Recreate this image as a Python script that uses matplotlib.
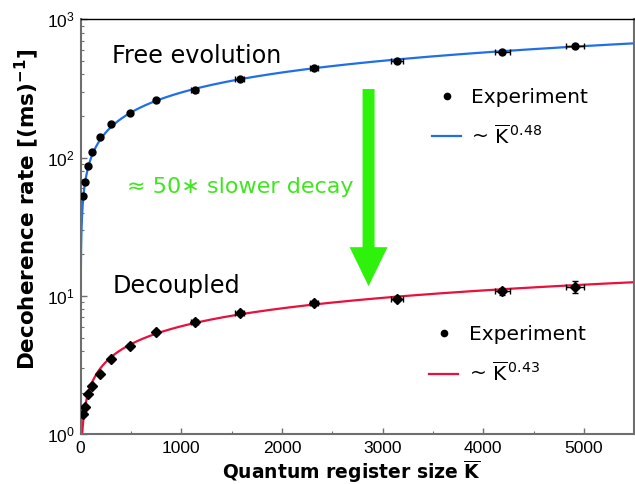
import numpy as np
import matplotlib
matplotlib.use("Agg")
import matplotlib.pyplot as plt
from matplotlib.lines import Line2D
from matplotlib.patches import FancyArrow

plt.rcParams['font.family'] = ['Liberation Sans', 'DejaVu Sans']
plt.rcParams['mathtext.fontset'] = 'custom'
plt.rcParams['mathtext.rm'] = 'Liberation Sans'
plt.rcParams['mathtext.bf'] = 'Liberation Sans:bold'
plt.rcParams['mathtext.it'] = 'Liberation Sans:italic'

# ---- data ----
K_free = [20, 43, 72, 112, 188, 301, 486, 751, 1135, 1579, 2317, 3141, 4187, 4906]
rate_free = [53, 67, 87, 110, 142, 175, 211, 262, 309, 371, 443, 500, 584, 645]
xerr_free = [1, 1, 2, 3, 4, 6, 10, 15, 35, 45, 40, 58, 75, 90]
yerr_free = [0.5, 0.5, 1, 1, 1, 2, 2, 3, 5, 6, 8, 10, 12, 15]

K_dec = [20, 40, 72, 115, 188, 301, 486, 751, 1135, 1579, 2317, 3141, 4187, 4906]
rate_dec = [1.40, 1.58, 1.95, 2.24, 2.74, 3.48, 4.38, 5.47, 6.53, 7.59, 8.91, 9.58, 10.8, 11.7]
xerr_dec = [1, 1, 2, 3, 4, 6, 10, 15, 35, 45, 40, 58, 75, 90]
yerr_dec = [0.03, 0.03, 0.04, 0.05, 0.06, 0.08, 0.1, 0.12, 0.15, 0.2, 0.25, 0.35, 0.6, 1.2]

free_amp, free_exp = 10.75, 0.48
dec_amp, dec_exp = 0.31, 0.43

x_ticks = [0, 1000, 2000, 3000, 4000, 5000]

blue = '#1f6fe8'
red = '#e8103c'
green_arrow = '#2ef20c'
green_text = '#3fe61f'
gray = '#6e6e6e'
wide = ['DejaVu Sans']

fig = plt.figure(figsize=(6.35, 4.84), dpi=100)
ax = fig.add_axes([0.127, 0.1027, 0.872, 0.8573])

kk = np.linspace(0.01, 5500, 4000)
ax.plot(kk, free_amp * kk ** free_exp, color=blue, lw=1.6, zorder=2)
ax.plot(kk, dec_amp * kk ** dec_exp, color=red, lw=1.6, zorder=2)

ax.errorbar(K_free, rate_free, xerr=xerr_free, yerr=yerr_free, fmt='o', ms=5,
            color='black', ecolor='black', elinewidth=1, capsize=2.5, zorder=3)
ax.errorbar(K_dec, rate_dec, xerr=xerr_dec, yerr=yerr_dec, fmt='D', ms=4.6,
            color='black', ecolor='black', elinewidth=1, capsize=2.5, zorder=3)

ax.set_yscale('log')
ax.set_xlim(0, 5500)
ax.set_ylim(1, 1000)
ax.set_xticks(x_ticks)
ax.set_xticks(np.arange(500, 5500, 1000), minor=True)

ax.tick_params(which='both', direction='in', color=gray, labelsize=12.5)
ax.tick_params(which='major', length=4, width=1)
ax.tick_params(which='minor', length=2.5, width=0.8)
ax.tick_params(axis='x', pad=5)
ax.tick_params(axis='y', pad=4)
for s in ['left', 'bottom', 'right']:
    ax.spines[s].set_color(gray)
    ax.spines[s].set_linewidth(1.5)
ax.spines['top'].set_color('black')
ax.spines['top'].set_linewidth(1.0)

ax.set_xlabel(r'Quantum register size $\overline{\mathbf{K}}$', fontsize=13.5,
              fontweight='bold', family=wide, math_fontfamily='dejavusans')
ax.xaxis.set_label_coords(0.49, -0.058)
ax.xaxis.label.set_va('top')
ax.set_ylabel(r'Decoherence rate [(ms)$^{\mathbf{-1}}$]', fontsize=15.5,
              fontweight='bold', family=wide, math_fontfamily='dejavusans')
ax.yaxis.set_label_coords(-0.071, 0.543)

ax.text(0.057, 0.895, 'Free evolution', transform=ax.transAxes, fontsize=17.2,
        family=wide)
ax.text(0.057, 0.34, 'Decoupled', transform=ax.transAxes, fontsize=17.2,
        family=wide)
ax.text(0.083, 0.582, '\u2248 50\u2217 slower decay', transform=ax.transAxes,
        fontsize=16, color=green_text, family=wide)

ax.add_patch(FancyArrow(0.520, 0.832, 0, -(0.832 - 0.357), width=0.0217,
                        head_width=0.0686, head_length=0.094,
                        length_includes_head=True, transform=ax.transAxes,
                        color=green_arrow, lw=0, zorder=4))

def make_legend(color, expo, anchor):
    h = [Line2D([], [], ls='none', marker='o', ms=4.5, color='black'),
         Line2D([], [], color=color, lw=1.6)]
    labels = ['Experiment', r'~ $\overline{\mathrm{K}}^{\,%s}$' % expo]
    leg = ax.legend(h, labels, loc='upper left', bbox_to_anchor=anchor,
                    frameon=False, handlelength=1.45, handletextpad=0.5,
                    labelspacing=0.85, borderaxespad=0,
                    prop={'family': wide, 'size': 14.5})
    for t in leg.get_texts():
        t.set_math_fontfamily('dejavusans')
    return leg

leg1 = make_legend(blue, '0.48', (0.620, 0.855))
ax.add_artist(leg1)
leg2 = make_legend(red, '0.43', (0.615, 0.283))

fig.savefig('out.png', dpi=100)
